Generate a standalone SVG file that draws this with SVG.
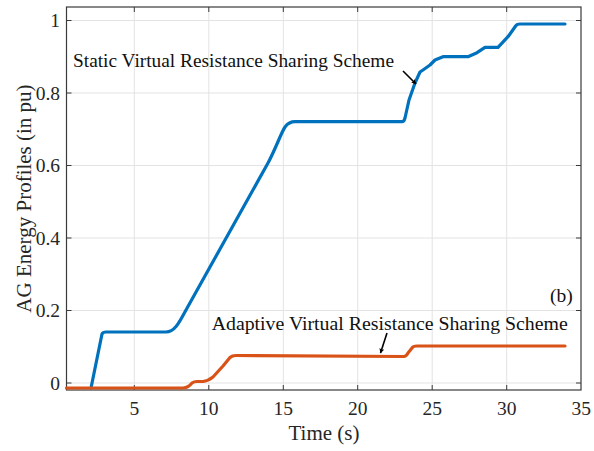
<svg xmlns="http://www.w3.org/2000/svg" width="594" height="451" viewBox="0 0 594 451">
<defs>
<style>
.grid{stroke:#e3e3e3;stroke-width:1;fill:none}
.axis{stroke:#3a3a3a;stroke-width:1.2;fill:none}
.tick{stroke:#3a3a3a;stroke-width:1;fill:none}
.lbl{font-family:"Liberation Serif","Times New Roman",serif;font-size:19.5px;fill:#262626}
.ann{font-family:"Liberation Serif","Times New Roman",serif;font-size:19.5px;fill:#111}
.title{font-family:"Liberation Serif","Times New Roman",serif;font-size:21px;fill:#262626}
.blue{stroke:#0072BD;stroke-width:3.2;fill:none;stroke-linejoin:round;stroke-linecap:round}
.orange{stroke:#D95319;stroke-width:3.2;fill:none;stroke-linejoin:round;stroke-linecap:round}
.arr{stroke:#000;stroke-width:1.6;fill:none}
</style>
<marker id="ah" viewBox="0 0 10 10" refX="9" refY="5" markerWidth="5" markerHeight="5" orient="auto" markerUnits="userSpaceOnUse">
<path d="M0,0 L10,5 L0,10 L2,5 Z" fill="#000"/>
</marker>
</defs>
<rect x="0" y="0" width="594" height="451" fill="#fff"/>
<g id="grid">
<path class="grid" d="M134.3 7V390M208.8 7V390M283.3 7V390M357.7 7V390M432.2 7V390M506.7 7V390"/>
<path class="grid" d="M66.5 383H581M66.5 310.5H581M66.5 238H581M66.5 165.5H581M66.5 93H581M66.5 20.5H581"/>
</g>
<g id="axes">
<rect class="axis" x="66.5" y="7" width="514.5" height="383"/>
<path class="tick" d="M134.3 390v-5M208.8 390v-5M283.3 390v-5M357.7 390v-5M432.2 390v-5M506.7 390v-5M134.3 7v5M208.8 7v5M283.3 7v5M357.7 7v5M432.2 7v5M506.7 7v5"/>
<path class="tick" d="M66.5 383h5M66.5 310.5h5M66.5 238h5M66.5 165.5h5M66.5 93h5M66.5 20.5h5M581 383h-5M581 310.5h-5M581 238h-5M581 165.5h-5M581 93h-5M581 20.5h-5"/>
</g>
<g id="yticks" class="lbl" text-anchor="end">
<text x="60" y="389.5">0</text>
<text x="60" y="317">0.2</text>
<text x="60" y="244.5">0.4</text>
<text x="60" y="172">0.6</text>
<text x="60" y="99.5">0.8</text>
<text x="60" y="27">1</text>
</g>
<g id="xticks" class="lbl" text-anchor="middle">
<text x="134.3" y="415">5</text>
<text x="208.8" y="415">10</text>
<text x="283.3" y="415">15</text>
<text x="357.7" y="415">20</text>
<text x="432.2" y="415">25</text>
<text x="506.7" y="415">30</text>
<text x="581.2" y="415">35</text>
</g>
<text id="xlabel" class="title" x="324" y="440" text-anchor="middle">Time (s)</text>
<text id="ylabel" class="title" transform="translate(31,198.5) rotate(-90)" text-anchor="middle">AG Energy Profiles (in pu)</text>
<g id="series">
<path id="static" class="blue" d="M91 388 L102 334 Q103 332 106 332 L166 332 C175 332 180 321 186 310 L268 163 C276 148 281 133 285 127 Q289 121.7 295 121.7 L402 121.7 Q404 121.7 405 118 L409 100 L415 83 L420 72 L423 70 L430 65 L435 60 L443 56.7 L468 56.7 L477 52.7 L485 47.3 L498 47.3 L508 36.7 L516 25.5 Q517 24 520 24 L565 24"/>
<path id="adaptive" class="orange" d="M66.5 388 L183 388 Q188 388 192 383 Q194 381.5 197 381.5 L203 381.5 Q208 381 213 377 L223 366 L230 357.5 Q232 355.5 236 355.5 L404 356.5 Q406 356.5 408 353 L412 348 Q413 346 417 346 L565 346"/>
</g>
<g id="connectors">
<path class="arr" d="M403 71 L416 84" marker-end="url(#ah)"/>
<path class="arr" d="M387 333 L380.5 353" marker-end="url(#ah)"/>
</g>
<g id="labels">
<text class="ann" x="73" y="67.3" textLength="321" lengthAdjust="spacingAndGlyphs">Static Virtual Resistance Sharing Scheme</text>
<text class="ann" x="211.7" y="330" textLength="356" lengthAdjust="spacingAndGlyphs">Adaptive Virtual Resistance Sharing Scheme</text>
<text class="ann" x="550" y="302">(b)</text>
</g>
</svg>
